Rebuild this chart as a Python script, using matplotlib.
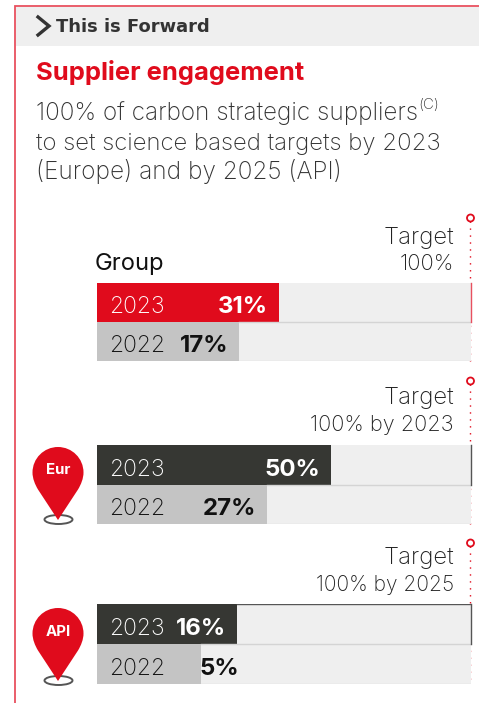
import matplotlib
matplotlib.use("Agg")
import matplotlib.pyplot as plt
from matplotlib.patches import Circle, Ellipse, PathPatch
from matplotlib.path import Path

plt.rcParams['font.family'] = ['Inter', 'DejaVu Sans']

# data
groups = ["Group", "Eur", "API"]
years = ["2023", "2022"]
pct_labels = [["31%", "17%"], ["50%", "27%"], ["16%", "5%"]]
# drawn bar lengths as % of the grey track (the bars are not to scale with the labels)
bar_lengths = [[48.7, 38.0], [62.6, 45.5], [37.4, 27.8]]
targets = [["Target", "100%"], ["Target", "100% by 2023"], ["Target", "100% by 2025"]]
bar_colors = [["#e00b1c", "#c4c4c4"], ["#363733", "#c4c4c4"], ["#363733", "#c4c4c4"]]
text_colors = [["white", "#111111"], ["white", "#111111"], ["white", "#111111"]]
edge_colors = ["#e8505f", "#555555", "#555555"]

RED = "#e00b1c"
TRACK = "#efefef"

W, H = 479, 703
fig = plt.figure(figsize=(W / 100, H / 100), dpi=100)
bg = fig.add_axes([0, 0, 1, 1])
bg.set_xlim(0, W)
bg.set_ylim(H, 0)
bg.axis("off")


def px(size):
    return size * 0.72


def make_bar_axes(top, bottom):
    ax = fig.add_axes([97 / W, 1 - bottom / H, 374 / W, (bottom - top) / H])
    ax.set_xlim(0, 100)
    ax.set_ylim(1.5, -0.5)
    ax.axis("off")
    return ax


def draw_pin(cx, top, label):
    r = 25.5
    cy = top + r
    tip = top + 73
    k = 0.5523 * r
    verts = [(cx - r, cy),
             (cx - r, cy - k), (cx - k, top), (cx, top),
             (cx + k, top), (cx + r, cy - k), (cx + r, cy),
             (cx + r, cy + 6), (cx + 23, cy + 12), (cx + 20, cy + 17),
             (cx, tip),
             (cx - 20, cy + 17),
             (cx - 23, cy + 12), (cx - r, cy + 6), (cx - r, cy),
             (cx - r, cy)]
    codes = [Path.MOVETO] + [Path.CURVE4] * 9 + [Path.LINETO, Path.LINETO] + [Path.CURVE4] * 3 + [Path.CLOSEPOLY]
    bg.add_patch(Ellipse((cx + 0.5, tip - 0.5), 28, 9, fc="none", ec="#555555", lw=1.4))
    bg.add_patch(PathPatch(Path(verts, codes), fc=RED, ec="none", zorder=3))
    bg.text(cx, cy - 2, label, color="white", fontsize=px(15), fontweight="bold",
            ha="center", va="center", zorder=4)


# frame and header
bg.plot([15, 15, W], [H, 6, 6], color="#e8505f", lw=1.3, solid_joinstyle="miter")
bg.fill_between([16, W], 7, 46, color=TRACK, lw=0)
bg.plot([38, 49, 38], [17, 26, 35], color="#333333", lw=2.4, solid_joinstyle="miter")
bg.text(56, 32, "This is Forward", fontsize=px(17.9), fontweight="bold", color="#333333", family="DejaVu Sans")

bg.text(36, 80, "Supplier engagement", fontsize=px(25.6), fontweight="bold", color=RED)
bg.text(36, 120, "100% of carbon strategic suppliers", fontsize=px(24.3), fontweight="light", color="#333333")
bg.text(418, 109, "(C)", fontsize=px(15), fontweight="light", color="#333333")
bg.text(36, 150, "to set science based targets by 2023", fontsize=px(23.9), fontweight="light", color="#333333")
bg.text(36, 179, "(Europe) and by 2025 (API)", fontsize=px(24.4), fontweight="light", color="#333333")

bg.text(95, 270, groups[0], fontsize=px(23.7), color="#111111")

bar_tops = [(283, 361), (445, 524), (604, 684)]
line_tops = [218, 381, 543]
target_ys = [(244, 270.5), (404, 431), (564, 591)]
target_sizes = [(24, 22), (24, 21.7), (24, 21)]

for g in range(3):
    top, bottom = bar_tops[g]
    ax = make_bar_axes(top, bottom)
    ax.barh([0, 1], [100, 100], height=1, color=TRACK)
    ax.barh([0, 1], bar_lengths[g], height=1, color=bar_colors[g])
    # thin row lines on the grey track
    ax.plot([bar_lengths[g][1], 100], [0.5, 0.5], color="#d4d4d4", lw=1)
    ax.plot([bar_lengths[g][1], 100], [1.49, 1.49], color="#dedede", lw=1)
    ax.plot([99.9, 99.9], [-0.5, 0.5], color=edge_colors[g], lw=1, clip_on=False)
    if g == 2:
        ax.plot([bar_lengths[g][0], 100], [-0.49, -0.49], color="#555555", lw=1)
    for i in range(2):
        ax.annotate(years[i], (0, i), xytext=(12, -11), textcoords="offset pixels",
                    fontsize=px(23), fontweight="light", color=text_colors[g][i], ha="left")
        # the 5% label does not fit in its bar so it sits just past the end
        shift = 38 if pct_labels[g][i] == "5%" else -11
        ax.annotate(pct_labels[g][i], (bar_lengths[g][i], i), xytext=(shift, -11),
                    textcoords="offset pixels", fontsize=px(24), fontweight="bold",
                    color=text_colors[g][i], ha="right")

    # target marker
    bg.plot([470.5, 470.5], [line_tops[g] + 3, bottom], color=RED, lw=1, ls=(0, (1, 4)), zorder=5)
    bg.add_patch(Circle((470.5, line_tops[g]), 3.5, fc="white", ec=RED, lw=1.3, zorder=6))
    for line, y, size in zip(targets[g], target_ys[g], target_sizes[g]):
        bg.text(454, y, line, fontsize=px(size), fontweight="light", color="#222222", ha="right")

draw_pin(58, 447, groups[1])
draw_pin(58, 608, groups[2])

fig.savefig("out.png", dpi=100)
